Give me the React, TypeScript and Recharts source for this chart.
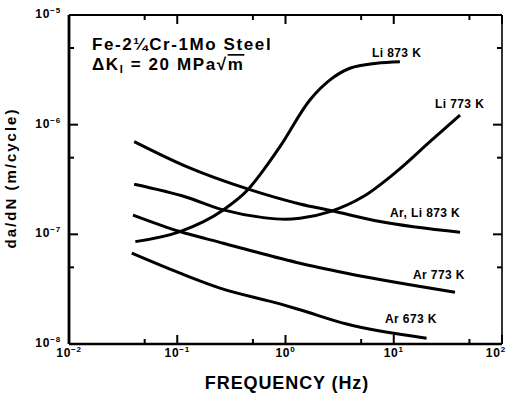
import React from "react";
import { LineChart, Line, XAxis, YAxis, Customized } from "recharts";

// frequency (Hz) vs da/dN (m/cycle)
const arLi873 = [
  { f: 0.04, v: 7.0e-7 },
  { f: 0.122, v: 4.14e-7 },
  { f: 0.453, v: 2.58e-7 },
  { f: 1.36, v: 1.89e-7 },
  { f: 2.67, v: 1.64e-7 },
  { f: 7.46, v: 1.31e-7 },
  { f: 41, v: 1.045e-7 },
];

const li773 = [
  { f: 0.04, v: 2.86e-7 },
  { f: 0.122, v: 2.18e-7 },
  { f: 0.266, v: 1.67e-7 },
  { f: 0.624, v: 1.42e-7 },
  { f: 1.0, v: 1.37e-7 },
  { f: 1.36, v: 1.4e-7 },
  { f: 2.58, v: 1.61e-7 },
  { f: 5.23, v: 2.21e-7 },
  { f: 10.6, v: 3.73e-7 },
  { f: 21.6, v: 7.0e-7 },
  { f: 41, v: 1.225e-6 },
];

const ar773 = [
  { f: 0.039, v: 1.5e-7 },
  { f: 0.106, v: 1.06e-7 },
  { f: 0.266, v: 8.3e-8 },
  { f: 0.889, v: 6.05e-8 },
  { f: 1.36, v: 5.45e-8 },
  { f: 3.67, v: 4.42e-8 },
  { f: 36.8, v: 2.97e-8 },
];

const li873 = [
  { f: 0.041, v: 8.58e-8 },
  { f: 0.106, v: 1.06e-7 },
  { f: 0.266, v: 1.67e-7 },
  { f: 0.453, v: 2.58e-7 },
  { f: 0.647, v: 4.03e-7 },
  { f: 0.889, v: 6.3e-7 },
  { f: 1.68, v: 1.68e-6 },
  { f: 2.58, v: 2.56e-6 },
  { f: 3.94, v: 3.27e-6 },
  { f: 6.95, v: 3.63e-6 },
  { f: 11.4, v: 3.75e-6 },
];

const ar673 = [
  { f: 0.038, v: 6.73e-8 },
  { f: 0.106, v: 4.42e-8 },
  { f: 0.248, v: 3.23e-8 },
  { f: 0.889, v: 2.32e-8 },
  { f: 1.36, v: 2.05e-8 },
  { f: 3.67, v: 1.52e-8 },
  { f: 20.1, v: 1.13e-8 },
];

const xTicks = [0.01, 0.05, 0.1, 0.5, 1, 5, 10, 50, 100];
const yTicks = [1e-8, 5e-8, 1e-7, 5e-7, 1e-6, 5e-6, 1e-5];

const font = "'Liberation Sans', Arial, sans-serif";

const isDecade = (v: number) => Math.abs(Math.log10(v) - Math.round(Math.log10(v))) < 1e-6;
const expOf = (v: number) => {
  const e = Math.round(Math.log10(v));
  return e < 0 ? "\u2212" + Math.abs(e) : String(e);
};

const XTick = ({ x, y, payload, side }: any) => {
  const v = payload.value;
  const major = isDecade(v);
  const dir = side === "bottom" ? -1 : 1;
  const len = major ? 9 : 5;
  const last = v >= 100;
  return (
    <g>
      <line x1={x} x2={x} y1={y} y2={y + dir * len} stroke="#000" strokeWidth={2} />
      {side === "bottom" && major && (
        <text
          x={last ? x + 4 : x}
          y={y + 13}
          textAnchor={last ? "end" : "middle"}
          fontFamily={font}
          fontWeight="bold"
          fontSize={12}
          letterSpacing={0.8}
          fill="#000"
        >
          10<tspan dy={-5} fontSize={8}>{expOf(v)}</tspan>
        </text>
      )}
    </g>
  );
};

const YTick = ({ x, y, payload, side }: any) => {
  const v = payload.value;
  const major = isDecade(v);
  const dir = side === "left" ? 1 : -1;
  const len = major ? 9 : 5;
  return (
    <g>
      <line x1={x} x2={x + dir * len} y1={y} y2={y} stroke="#000" strokeWidth={2} />
      {side === "left" && major && (
        <text
          x={x - 8}
          y={y + 3}
          textAnchor="end"
          fontFamily={font}
          fontWeight="bold"
          fontSize={12}
          letterSpacing={0.8}
          fill="#000"
        >
          10<tspan dy={-5} fontSize={8}>{expOf(v)}</tspan>
        </text>
      )}
    </g>
  );
};

const labelStyle = {
  fontFamily: font,
  fontWeight: "bold" as const,
  fontSize: 12,
  letterSpacing: 0.4,
  fill: "#000",
};

const Annotations = () => (
  <g>
    <text x={92} y={50} fontFamily={font} fontWeight="bold" fontSize={17} letterSpacing={1.6} fill="#000">
      Fe-2¼Cr-1Mo Steel
    </text>
    <text x={92} y={70} fontFamily={font} fontWeight="bold" fontSize={17} letterSpacing={1.6} fill="#000">
      ΔK<tspan dy={3} fontSize={11}>I</tspan>
      <tspan dy={-3}> = 20 MPa√</tspan>
      <tspan textDecoration="overline">m</tspan>
    </text>
    <text x={372} y={57} {...labelStyle}>Li 873 K</text>
    <text x={435} y={108} {...labelStyle}>Li 773 K</text>
    <text x={390} y={217} {...labelStyle}>Ar, Li 873 K</text>
    <text x={413} y={279} {...labelStyle}>Ar 773 K</text>
    <text x={385} y={323} {...labelStyle}>Ar 673 K</text>
    <text
      x={287}
      y={389}
      textAnchor="middle"
      fontFamily={font}
      fontWeight="bold"
      fontSize={18}
      letterSpacing={0.9}
      fill="#000"
    >
      FREQUENCY (Hz)
    </text>
    <text
      x={0}
      y={0}
      transform="translate(16,178) rotate(-90)"
      textAnchor="middle"
      fontFamily={font}
      fontWeight="bold"
      fontSize={15}
      letterSpacing={2}
      fill="#000"
    >
      da/dN (m/cycle)
    </text>
  </g>
);

// Li 873 K is bound to the top/right axes (same domains) so the box sides get drawn
const series = [
  { d: arLi873, xId: 0, yId: 0 },
  { d: li773, xId: 0, yId: 0 },
  { d: ar773, xId: 0, yId: 0 },
  { d: li873, xId: "top", yId: "right" },
  { d: ar673, xId: 0, yId: 0 },
];

export default function App() {
  return (
    <div style={{ position: "absolute", left: 0, top: 0, background: "#fff" }}>
      <LineChart width={507} height={394} margin={{ top: 14, right: 4, bottom: 10, left: 9 }}>
        <XAxis
          dataKey="f"
          type="number"
          scale="log"
          domain={[0.01, 100]}
          allowDataOverflow
          ticks={xTicks}
          interval={0}
          height={40}
          tickSize={0}
          tickMargin={0}
          tickLine={false}
          axisLine={{ stroke: "#000", strokeWidth: 2.4 }}
          tick={(p: any) => <XTick {...p} side="bottom" />}
        />
        <XAxis
          xAxisId="top"
          orientation="top"
          dataKey="f"
          type="number"
          scale="log"
          domain={[0.01, 100]}
          allowDataOverflow
          ticks={xTicks}
          interval={0}
          height={1}
          tickSize={0}
          tickMargin={0}
          tickLine={false}
          axisLine={{ stroke: "#000", strokeWidth: 2 }}
          tick={(p: any) => <XTick {...p} side="top" />}
        />
        <YAxis
          dataKey="v"
          type="number"
          scale="log"
          domain={[1e-8, 1e-5]}
          allowDataOverflow
          ticks={yTicks}
          interval={0}
          width={60}
          tickSize={0}
          tickMargin={0}
          tickLine={false}
          axisLine={{ stroke: "#000", strokeWidth: 2.8 }}
          tick={(p: any) => <YTick {...p} side="left" />}
        />
        <YAxis
          yAxisId="right"
          orientation="right"
          dataKey="v"
          type="number"
          scale="log"
          domain={[1e-8, 1e-5]}
          allowDataOverflow
          ticks={yTicks}
          interval={0}
          width={1}
          tickSize={0}
          tickMargin={0}
          tickLine={false}
          axisLine={{ stroke: "#000", strokeWidth: 1.6 }}
          tick={(p: any) => <YTick {...p} side="right" />}
        />
        {series.map((s, i) => (
          <Line
            key={i}
            data={s.d}
            xAxisId={s.xId}
            yAxisId={s.yId}
            dataKey="v"
            type="monotone"
            stroke="#000"
            strokeWidth={3}
            dot={false}
            isAnimationActive={false}
          />
        ))}
        <Customized component={Annotations} />
      </LineChart>
    </div>
  );
}
